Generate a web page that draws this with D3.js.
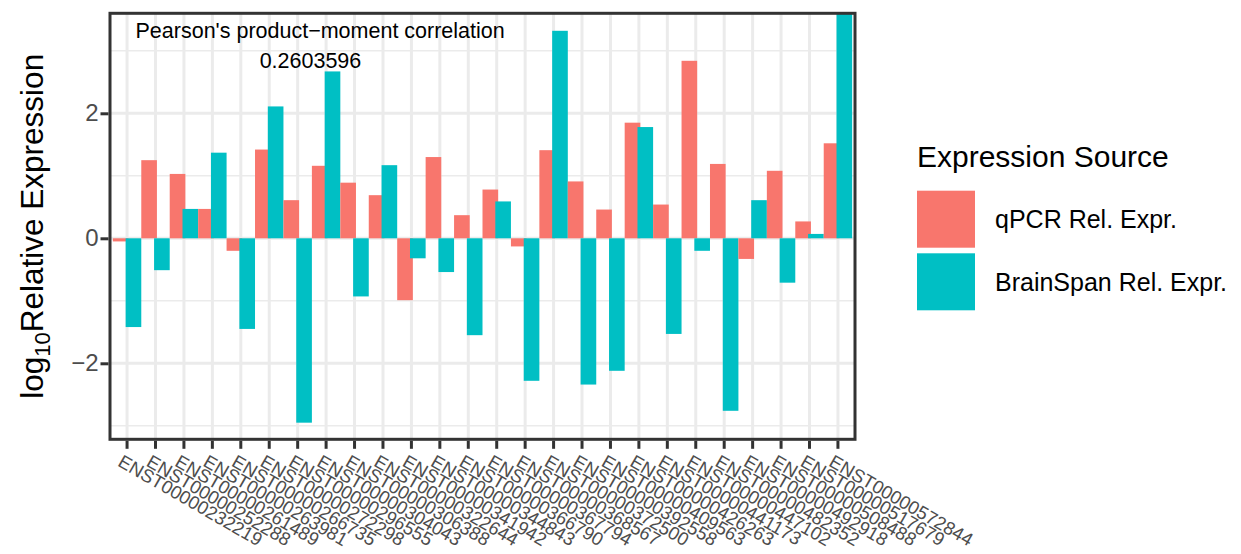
<!DOCTYPE html>
<html>
<head>
<meta charset="utf-8">
<script src="https://cdn.jsdelivr.net/npm/d3@7"></script>
<style>
  html, body { margin: 0; padding: 0; background: #ffffff; }
  svg { display: block; font-family: "Liberation Sans", Arial, sans-serif; }
</style>
</head>
<body>
<svg id="chart" width="1241" height="554"></svg>
<script>
// Transcripts on the x axis
const transcripts = [
  "ENST00000232219", "ENST00000252288", "ENST00000261489", "ENST00000263981",
  "ENST00000266735", "ENST00000272298", "ENST00000296555", "ENST00000304043",
  "ENST00000306388", "ENST00000322644", "ENST00000341942", "ENST00000344843",
  "ENST00000366790", "ENST00000367794", "ENST00000368567", "ENST00000372500",
  "ENST00000392558", "ENST00000409563", "ENST00000426263", "ENST00000441173",
  "ENST00000447102", "ENST00000482352", "ENST00000492918", "ENST00000508488",
  "ENST00000517679", "ENST00000572844"
];

// log10 relative expression, one value per transcript
const qpcrValues = [
  -0.05, 1.25, 1.03, 0.47, -0.20, 1.42, 0.61, 1.16, 0.89, 0.69, -0.99, 1.30, 0.37,
  0.78, -0.13, 1.41, 0.91, 0.46, 1.85, 0.54, 2.84, 1.19, -0.33, 1.08, 0.27, 1.52
];
const brainspanValues = [
  -1.42, -0.51, 0.47, 1.37, -1.45, 2.11, -2.95, 2.67, -0.93, 1.17, -0.32, -0.54, -1.55,
  0.59, -2.28, 3.32, -2.34, -2.12, 1.78, -1.53, -0.20, -2.76, 0.61, -0.71, 0.07, 3.90
];

const sourceNames = ["qPCR Rel. Expr.", "BrainSpan Rel. Expr."];
const sourceColors = ["#F8766D", "#00BFC4"];

// Visible y range of the panel and labelled ticks
const yLimits = [-3.216, 3.6];
const yMajorTicks = [-2, 0, 2];
const yMinorTicks = [-3, -1, 1, 3];

const correlationTitle = "Pearson's product\u2212moment correlation";
const correlationValue = "0.2603596";

const svg = d3.select("#chart");

const panel = { left: 110, right: 855, top: 13.3, bottom: 439.3 };

const x = d3.scaleBand()
  .domain(transcripts)
  .range([panel.left, panel.right])
  .paddingInner(0)
  .paddingOuter(0.1);

const y = d3.scaleLinear()
  .domain(yLimits)
  .range([panel.bottom, panel.top]);

const bw = x.bandwidth();
const dodge = 0.9;     // dodge width as a share of one category
const barShare = 0.55; // each bar's width as a share of one category
const center = d => x(d) + bw / 2;

// Long-format rows, interleaved per transcript so the drawing order alternates
const rows = [];
transcripts.forEach((t, i) => {
  rows.push({ t, s: 0, v: qpcrValues[i] });
  rows.push({ t, s: 1, v: brainspanValues[i] });
});

// Clip for the plotting panel
svg.append("defs").append("clipPath").attr("id", "panel-clip")
  .append("rect")
  .attr("x", panel.left).attr("y", panel.top)
  .attr("width", panel.right - panel.left).attr("height", panel.bottom - panel.top);

const grid = svg.append("g");

// Minor horizontal gridlines
grid.selectAll("line.minor").data(yMinorTicks).join("line")
  .attr("x1", panel.left).attr("x2", panel.right)
  .attr("y1", d => y(d)).attr("y2", d => y(d))
  .attr("stroke", "#EBEBEB").attr("stroke-width", 1.5);

// Major horizontal gridlines
grid.selectAll("line.major").data(yMajorTicks).join("line")
  .attr("x1", panel.left).attr("x2", panel.right)
  .attr("y1", d => y(d)).attr("y2", d => y(d))
  .attr("stroke", "#EBEBEB").attr("stroke-width", 3);

// Vertical gridlines at each transcript
grid.selectAll("line.vert").data(transcripts).join("line")
  .attr("x1", d => center(d)).attr("x2", d => center(d))
  .attr("y1", panel.top).attr("y2", panel.bottom)
  .attr("stroke", "#EBEBEB").attr("stroke-width", 3);

// Bars
svg.append("g").attr("clip-path", "url(#panel-clip)")
  .selectAll("rect").data(rows).join("rect")
  .attr("x", d => center(d.t) + (d.s === 0 ? -1 : 1) * dodge / 4 * bw - barShare * bw / 2)
  .attr("width", barShare * bw)
  .attr("y", d => y(Math.max(0, d.v)))
  .attr("height", d => Math.abs(y(d.v) - y(0)))
  .attr("fill", d => sourceColors[d.s]);

// Correlation annotation
const annot = svg.append("g").attr("font-size", 21.5).attr("fill", "#000").attr("text-anchor", "middle");
annot.append("text").attr("x", x(transcripts[7]) + 0.29 * bw).attr("y", y(3.2)).text(correlationTitle);
annot.append("text").attr("x", x(transcripts[7]) - 0.05 * bw).attr("y", y(2.73)).text(correlationValue);

// Panel border
svg.append("rect")
  .attr("x", panel.left).attr("y", panel.top)
  .attr("width", panel.right - panel.left).attr("height", panel.bottom - panel.top)
  .attr("fill", "none").attr("stroke", "#333333").attr("stroke-width", 3);

// Y axis
const yAxis = svg.append("g")
  .attr("transform", `translate(${panel.left - 1.5},0)`)
  .call(d3.axisLeft(y).tickValues(yMajorTicks).tickSize(8).tickPadding(2)
    .tickFormat(d => d < 0 ? "\u2212" + Math.abs(d) : String(d)));
yAxis.select(".domain").remove();
yAxis.selectAll(".tick line").attr("stroke", "#333333").attr("stroke-width", 3);
yAxis.selectAll(".tick text").attr("fill", "#4D4D4D").attr("font-size", 24)
  .attr("font-family", "Liberation Sans, Arial, sans-serif");

// X axis
const xAxis = svg.append("g")
  .attr("transform", `translate(0,${panel.bottom + 1.5})`)
  .call(d3.axisBottom(x).tickSize(8).tickPadding(0));
xAxis.select(".domain").remove();
xAxis.selectAll(".tick line").attr("stroke", "#333333").attr("stroke-width", 3);
xAxis.selectAll(".tick text")
  .attr("fill", "#4D4D4D").attr("font-size", 18.5)
  .attr("font-family", "Liberation Sans, Arial, sans-serif")
  .attr("text-anchor", "start")
  .attr("dy", "0.35em")
  .attr("transform", "translate(-3,12) rotate(30)");

// Y axis title with subscript
const yTitle = svg.append("text")
  .attr("transform", `translate(43,${(panel.top + panel.bottom) / 2}) rotate(-90)`)
  .attr("text-anchor", "middle")
  .attr("font-size", 31.5).attr("fill", "#000");
yTitle.append("tspan").text("log");
yTitle.append("tspan").attr("font-size", 22).attr("dy", 7).text("10");
yTitle.append("tspan").attr("dy", -7).text("Relative Expression");

// Legend
const legend = svg.append("g").attr("transform", "translate(917,0)");
legend.append("text").attr("x", 0).attr("y", 167)
  .attr("font-size", 30).attr("fill", "#000").text("Expression Source");
const keys = legend.selectAll("g.key").data(sourceNames).join("g")
  .attr("transform", (d, i) => `translate(0,${190.7 + i * 62.6})`);
keys.append("rect").attr("width", 58).attr("height", 57)
  .attr("fill", (d, i) => sourceColors[i]);
keys.append("text").attr("x", 78).attr("y", 28.5).attr("dy", "0.35em")
  .attr("font-size", 25).attr("fill", "#000").text(d => d);
</script>
</body>
</html>
